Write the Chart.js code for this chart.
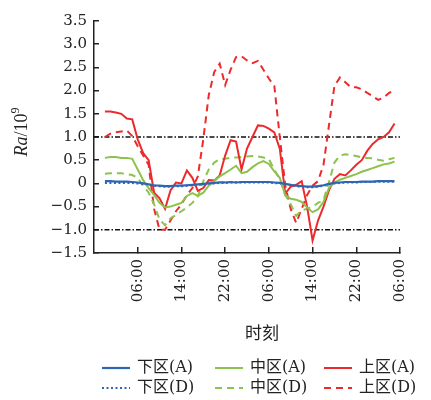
<!DOCTYPE html>
<html lang="zh">
<head>
<meta charset="utf-8">
<title>Ra 随时刻变化</title>
<script src="https://cdn.jsdelivr.net/npm/chart.js@4/dist/chart.umd.min.js"></script>
<style>
    html, body { margin: 0; padding: 0; background: #fff; }
    #chart { display: block; }
</style>
</head>
<body>
<canvas id="chart" width="431" height="400"></canvas>
<script>
// hours counted from 22:00 of the first evening
const hours = [2, 3, 4, 5, 6, 7, 8, 9, 10, 11, 12, 13, 14, 15, 16, 17, 18, 19, 20, 21,
    22, 23, 24, 25, 26, 27, 28, 29, 30, 31, 32, 33, 34, 35, 36, 37, 38, 39, 40, 41,
    42, 43, 44, 45, 46, 47, 48, 49, 50, 51, 52, 53, 54, 55];

const seriesNames = ['下区(A)', '中区(A)', '上区(A)', '下区(D)', '中区(D)', '上区(D)'];

const lowerA = [0.05, 0.05, 0.04, 0.04, 0.04, 0.03, 0.02, 0.00, -0.02, -0.04, -0.05, -0.06, -0.06, -0.05, -0.05, -0.04, -0.03, -0.02, -0.01, 0.00,
    0.01, 0.02, 0.02, 0.03, 0.02, 0.03, 0.03, 0.03, 0.03, 0.03, 0.03, 0.02, 0.01, -0.01, -0.03, -0.05, -0.06, -0.07, -0.07, -0.06,
    -0.04, -0.01, 0.01, 0.02, 0.03, 0.03, 0.03, 0.04, 0.04, 0.04, 0.05, 0.05, 0.05, 0.05];
const middleA = [0.55, 0.57, 0.57, 0.55, 0.55, 0.53, 0.30, 0.07, -0.10, -0.25, -0.42, -0.52, -0.50, -0.46, -0.42, -0.27, -0.21, -0.27, -0.20, -0.05,
    0.05, 0.15, 0.22, 0.30, 0.38, 0.22, 0.25, 0.35, 0.43, 0.48, 0.42, 0.26, 0.12, -0.25, -0.33, -0.35, -0.40, -0.52, -0.62, -0.56,
    -0.40, -0.10, 0.02, 0.08, 0.12, 0.16, 0.20, 0.25, 0.29, 0.33, 0.37, 0.41, 0.43, 0.47];
const upperA = [1.55, 1.55, 1.53, 1.50, 1.40, 1.38, 0.95, 0.65, 0.50, -0.20, -0.32, -0.55, -0.15, 0.02, 0.00, 0.28, 0.12, -0.16, -0.10, 0.07,
    0.06, 0.17, 0.60, 0.93, 0.90, 0.30, 0.75, 1.00, 1.25, 1.24, 1.18, 1.10, 0.75, -0.22, -0.07, -0.03, 0.05, -0.50, -1.23, -0.80,
    -0.50, -0.15, 0.10, 0.20, 0.17, 0.28, 0.40, 0.50, 0.70, 0.85, 0.95, 1.00, 1.10, 1.29];
const lowerD = [0.01, 0.01, 0.01, 0.01, 0.01, 0.01, 0.00, -0.01, -0.03, -0.05, -0.06, -0.07, -0.07, -0.06, -0.06, -0.05, -0.04, -0.03, -0.02, -0.01,
    0.00, 0.01, 0.01, 0.02, 0.02, 0.02, 0.02, 0.02, 0.02, 0.02, 0.02, 0.01, 0.00, -0.02, -0.04, -0.06, -0.07, -0.08, -0.08, -0.07,
    -0.05, -0.02, 0.00, 0.01, 0.02, 0.02, 0.02, 0.03, 0.03, 0.03, 0.04, 0.04, 0.04, 0.04];
const middleD = [0.21, 0.22, 0.22, 0.22, 0.20, 0.18, 0.12, -0.05, -0.20, -0.45, -0.78, -0.90, -0.75, -0.68, -0.60, -0.52, -0.42, -0.28, 0.05, 0.30,
    0.45, 0.52, 0.53, 0.55, 0.56, 0.57, 0.58, 0.59, 0.58, 0.56, 0.52, 0.30, 0.10, -0.25, -0.45, -0.70, -0.58, -0.55, -0.50, -0.42,
    -0.36, 0.03, 0.45, 0.60, 0.63, 0.61, 0.59, 0.56, 0.55, 0.54, 0.51, 0.49, 0.52, 0.55];
const upperD = [1.00, 1.07, 1.10, 1.12, 1.14, 1.02, 0.80, 0.60, 0.40, -0.55, -1.00, -1.00, -0.80, -0.60, -0.45, -0.25, -0.10, 0.15, 0.95, 1.90,
    2.40, 2.58, 2.12, 2.45, 2.72, 2.74, 2.65, 2.59, 2.64, 2.45, 2.26, 2.10, 1.00, -0.05, -0.55, -0.85, -0.55, -0.25, -0.05, 0.05,
    0.40, 1.25, 2.10, 2.28, 2.18, 2.07, 2.07, 2.03, 1.95, 1.88, 1.80, 1.85, 1.95, 2.00];

// dash-dot reference levels
const refLevels = [1.0, -1.0];

const xMin = 0;
const xMax = 56;
const xTickHours = [8, 16, 24, 32, 40, 48, 56];
const xTickLabels = ['06:00', '14:00', '22:00', '06:00', '14:00', '22:00', '06:00'];
const yTickValues = [-1.5, -1.0, -0.5, 0, 0.5, 1.0, 1.5, 2.0, 2.5, 3.0, 3.5];
const yTickLabels = ['−1.5', '−1.0', '−0.5', '0', '0.5', '1.0', '1.5', '2.0', '2.5', '3.0', '3.5'];
const xTitle = '时刻';
const yTitle = ['Ra', '/10', '9'];

const BLUE = '#2f66b3';
const GREEN = '#8cc34c';
const RED = '#ec2a2c';
const INK = '#222';

function pairUp(values) {
    return hours.map((h, i) => ({ x: h, y: values[i] }));
}

const seriesValues = [lowerA, middleA, upperA, lowerD, middleD, upperD];
const seriesStyles = [
    { color: BLUE, width: 2.2, dash: [] },
    { color: GREEN, width: 2, dash: [] },
    { color: RED, width: 2, dash: [] },
    { color: BLUE, width: 2.2, dash: [2, 2.5] },
    { color: GREEN, width: 2, dash: [7, 5] },
    { color: RED, width: 2, dash: [7, 5] }
];

const datasets = seriesValues.map((vals, i) => ({
    label: seriesNames[i],
    data: pairUp(vals),
    borderColor: seriesStyles[i].color,
    borderWidth: seriesStyles[i].width,
    borderDash: seriesStyles[i].dash,
    pointRadius: 0,
    tension: 0,
    fill: false
}));

refLevels.forEach(level => {
    datasets.push({
        label: '',
        data: [{ x: xMin, y: level }, { x: xMax, y: level }],
        borderColor: '#111',
        borderWidth: 1.5,
        borderDash: [5, 2, 1.5, 2],
        pointRadius: 0,
        fill: false
    });
});

// titles and legend are drawn by hand so they sit where the original has them
const textPlugin = {
    id: 'textPlugin',
    afterDraw(chart) {
        const ctx = chart.ctx;

        // y title with italic Ra and superscript 9
        ctx.save();
        ctx.fillStyle = INK;
        ctx.textBaseline = 'middle';
        ctx.textAlign = 'left';
        ctx.translate(22, 132);
        ctx.rotate(-Math.PI / 2);
        const fonts = ['italic 18px "Liberation Serif"', '18px "Liberation Serif"', '12px "Liberation Serif"'];
        const widths = yTitle.map((t, i) => { ctx.font = fonts[i]; return ctx.measureText(t).width; });
        let x = -(widths[0] + widths[1] + widths[2]) / 2;
        yTitle.forEach((t, i) => {
            ctx.font = fonts[i];
            ctx.fillText(t, x, i === 2 ? -6 : 0);
            x += widths[i];
        });
        ctx.restore();

        // x title
        ctx.save();
        ctx.fillStyle = INK;
        ctx.font = '17px "Noto Sans CJK SC"';
        ctx.textAlign = 'center';
        ctx.textBaseline = 'middle';
        ctx.fillText(xTitle, 262, 333);
        ctx.restore();

        // legend, 3 columns x 2 rows
        const cols = [102, 215, 324];
        const rows = [368, 388];
        chart.data.datasets.slice(0, seriesNames.length).forEach((ds, i) => {
            const lx = cols[i % 3];
            const ly = rows[Math.floor(i / 3)];
            ctx.save();
            ctx.strokeStyle = ds.borderColor;
            ctx.lineWidth = ds.borderWidth;
            ctx.setLineDash(ds.borderDash);
            ctx.beginPath();
            ctx.moveTo(lx, ly);
            ctx.lineTo(lx + 28, ly);
            ctx.stroke();
            ctx.restore();

            ctx.save();
            ctx.fillStyle = INK;
            ctx.font = '16px "DejaVu Serif", "Noto Sans CJK SC"';
            ctx.textAlign = 'left';
            ctx.textBaseline = 'middle';
            ctx.fillText(ds.label, lx + 35, ly);
            ctx.restore();
        });
    }
};

Chart.defaults.font.family = '"DejaVu Serif", "Noto Sans CJK SC"';
Chart.defaults.color = INK;

new Chart(document.getElementById('chart'), {
    type: 'line',
    data: { datasets: datasets },
    options: {
        responsive: false,
        animation: false,
        devicePixelRatio: 1,
        layout: { padding: { top: 15, right: 31, bottom: 0, left: 0 } },
        plugins: {
            legend: { display: false },
            tooltip: { enabled: false }
        },
        scales: {
            x: {
                type: 'linear',
                min: xMin,
                max: xMax,
                afterBuildTicks: scale => {
                    scale.ticks = xTickHours.map(v => ({ value: v }));
                },
                afterFit: scale => { scale.height = 147; },
                ticks: {
                    autoSkip: false,
                    minRotation: 90,
                    maxRotation: 90,
                    padding: 12,
                    font: { size: 15 },
                    callback: (v, i) => xTickLabels[i]
                },
                grid: {
                    drawOnChartArea: false,
                    tickLength: -6,
                    color: INK,
                    lineWidth: 1.5
                },
                border: { display: true, color: INK, width: 1.5 }
            },
            y: {
                min: -1.5,
                max: 3.5,
                afterBuildTicks: scale => {
                    scale.ticks = yTickValues.map(v => ({ value: v }));
                },
                afterFit: scale => { scale.width = 94; },
                ticks: {
                    padding: 12,
                    font: { size: 15 },
                    callback: (v, i) => yTickLabels[i]
                },
                grid: {
                    drawOnChartArea: false,
                    tickLength: -5,
                    color: INK,
                    lineWidth: 1.5
                },
                border: { display: true, color: INK, width: 1.5 }
            }
        }
    },
    plugins: [textPlugin]
});
</script>
</body>
</html>
